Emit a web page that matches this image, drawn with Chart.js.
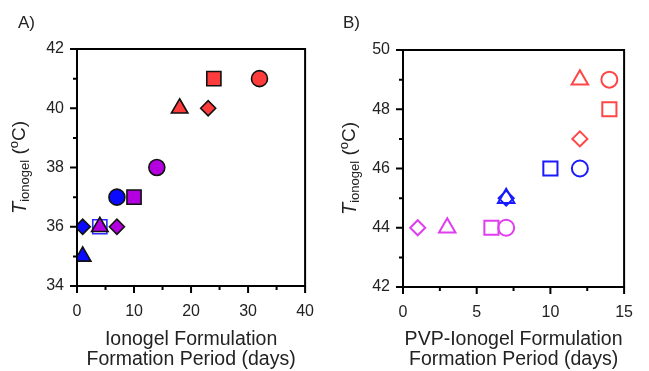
<!DOCTYPE html>
<html>
<head>
<meta charset="utf-8">
<script src="https://cdn.jsdelivr.net/npm/chart.js@4"></script>
<style>
  body { margin: 0; background: #fff; }
  #wrap { position: relative; width: 649px; height: 371px; }
  canvas { position: absolute; top: 0; }
</style>
</head>
<body>
<div id="wrap">
  <canvas id="chartA" width="330" height="371" style="left:0"></canvas>
  <canvas id="chartB" width="319" height="371" style="left:330px"></canvas>
</div>
<script>
// Panel A - ionogel formulations
const aDays   = [24, 32, 18, 23, 14, 7, 10, 1, 4, 4, 7, 1];
const aTemp   = [41, 41, 40, 40, 38, 37, 37, 36, 36, 36, 36, 35];
const aGroup  = ['red', 'red', 'red', 'red', 'purple', 'blue', 'purple', 'blue', 'blue', 'purple', 'purple', 'blue'];
const aMarker = ['square', 'circle', 'triangle', 'diamond', 'circle', 'circle', 'square', 'diamond', 'squareOpen', 'triangle', 'diamond', 'triangle'];
const aXTicks = [0, 10, 20, 30, 40];
const aYTicks = [34, 36, 38, 40, 42];

// Panel B - PVP-ionogel formulations
const bDays   = [12, 14, 14, 12, 10, 12, 7, 7, 1, 3, 6, 7];
const bTemp   = [49, 49, 48, 47, 46, 46, 45, 45, 44, 44, 44, 44];
const bGroup  = ['red', 'red', 'red', 'red', 'blue', 'blue', 'blue', 'blue', 'purple', 'purple', 'purple', 'purple'];
const bMarker = ['triangle', 'circle', 'square', 'diamond', 'square', 'circle', 'triangle', 'diamond', 'diamond', 'triangle', 'square', 'circle'];
const bXTicks = [0, 5, 10, 15];
const bYTicks = [42, 44, 46, 48, 50];

const FONT = '"Liberation Sans", Arial, sans-serif';
const filledColors = { red: '#ff3c3c', blue: '#0a0aff', purple: '#b400e0' };
const openColors = { red: '#ff4646', blue: '#1a1aff', purple: '#e03cf0' };
const styleOf = { square: 'rect', squareOpen: 'rect', circle: 'circle', triangle: 'triangle', diamond: 'rectRot' };
const radiusOf = { square: 10, squareOpen: 10, circle: 8, triangle: 9.5, diamond: 7.5 };

// cadre + graduations + titre Y + lettre du panneau
const framePlugin = {
    id: 'framePlugin',
    afterDraw(chart, args, opts) {
        const ctx = chart.ctx;
        const { left, right, top, bottom } = chart.chartArea;
        const xs = chart.scales.x, ys = chart.scales.y;
        ctx.save();
        ctx.strokeStyle = '#000';
        ctx.lineWidth = 2;
        ctx.strokeRect(left, top, right - left, bottom - top);

        const xt = opts.xTicks, yt = opts.yTicks;
        ctx.beginPath();
        xt.forEach((v, i) => {
            let px = xs.getPixelForValue(v);
            ctx.moveTo(px, bottom); ctx.lineTo(px, bottom + 7);
            if (i < xt.length - 1) {
                px = xs.getPixelForValue((v + xt[i + 1]) / 2);
                ctx.moveTo(px, bottom); ctx.lineTo(px, bottom + 4);
            }
        });
        yt.forEach((v, i) => {
            let py = ys.getPixelForValue(v);
            ctx.moveTo(left, py); ctx.lineTo(left - 7, py);
            if (i < yt.length - 1) {
                py = ys.getPixelForValue((v + yt[i + 1]) / 2);
                ctx.moveTo(left, py); ctx.lineTo(left - 4, py);
            }
        });
        ctx.stroke();

        // panel letter
        ctx.fillStyle = '#222';
        ctx.font = '17px ' + FONT;
        ctx.textBaseline = 'middle';
        ctx.textAlign = 'left';
        ctx.fillText(opts.letter, opts.letterX, 23);

        // Y title: T_ionogel (°C)
        ctx.translate(20, (top + bottom) / 2);
        ctx.rotate(-Math.PI / 2);
        const parts = [
            { t: 'T', f: 'italic 20px ' + FONT, dy: 0 },
            { t: 'ionogel', f: '13px ' + FONT, dy: 5 },
            { t: ' (', f: '19px ' + FONT, dy: 0 },
            { t: 'o', f: '13px ' + FONT, dy: -6 },
            { t: 'C)', f: '19px ' + FONT, dy: 0 }
        ];
        let total = 0;
        parts.forEach(p => { ctx.font = p.f; total += ctx.measureText(p.t).width; });
        let x = -total / 2;
        ctx.textBaseline = 'middle';
        parts.forEach(p => {
            ctx.font = p.f;
            ctx.fillText(p.t, x, p.dy);
            x += ctx.measureText(p.t).width;
        });
        ctx.restore();
    }
};

function make_chart(id, days, temp, group, marker, xTicks, yTicks, filled, cfg) {
    const pts = days.map((d, i) => ({ x: d, y: temp[i] }));
    const ctx = document.getElementById(id).getContext('2d');
    return new Chart(ctx, {
        type: 'scatter',
        data: {
            datasets: [{
                data: pts,
                pointStyle: c => styleOf[marker[c.dataIndex]],
                pointRadius: c => radiusOf[marker[c.dataIndex]],
                pointHoverRadius: c => radiusOf[marker[c.dataIndex]],
                backgroundColor: c => {
                    if (!filled || marker[c.dataIndex] === 'squareOpen') return 'rgba(0,0,0,0)';
                    return filledColors[group[c.dataIndex]];
                },
                borderColor: c => {
                    if (!filled) return openColors[group[c.dataIndex]];
                    if (marker[c.dataIndex] === 'squareOpen') return '#2a2aff';
                    return '#111';
                },
                borderWidth: filled ? 1.6 : 2
            }]
        },
        options: {
            responsive: false,
            animation: false,
            devicePixelRatio: 1,
            layout: { padding: { top: cfg.top, right: cfg.right, left: 0, bottom: 0 } },
            plugins: {
                legend: { display: false },
                tooltip: { enabled: false },
                framePlugin: { xTicks: xTicks, yTicks: yTicks, letter: cfg.letter, letterX: cfg.letterX }
            },
            scales: {
                x: {
                    type: 'linear',
                    min: xTicks[0], max: xTicks[xTicks.length - 1],
                    afterFit: s => { s.height = cfg.xHeight; },
                    grid: { display: false, drawTicks: false },
                    border: { display: false },
                    ticks: { stepSize: xTicks[1] - xTicks[0], padding: 16, color: '#222', font: { family: FONT, size: 16 } },
                    title: {
                        display: true,
                        text: cfg.xTitle,
                        color: '#222',
                        font: { family: FONT, size: 19.5, lineHeight: 1.0 },
                        padding: { top: 0, bottom: 2 }
                    }
                },
                y: {
                    type: 'linear',
                    min: yTicks[0], max: yTicks[yTicks.length - 1],
                    afterFit: s => { s.width = cfg.yWidth; },
                    grid: { display: false, drawTicks: false },
                    border: { display: false },
                    ticks: { stepSize: yTicks[1] - yTicks[0], padding: 13, color: '#222', font: { family: FONT, size: 16 } }
                }
            }
        },
        plugins: [framePlugin]
    });
}

make_chart('chartA', aDays, aTemp, aGroup, aMarker, aXTicks, aYTicks, true, {
    top: 49, right: 16, xHeight: 85, yWidth: 77, letter: 'A)', letterX: 18,
    xTitle: ['Ionogel Formulation', 'Formation Period (days)']
});
make_chart('chartB', bDays, bTemp, bGroup, bMarker, bXTicks, bYTicks, false, {
    top: 50, right: 11, xHeight: 84, yWidth: 73, letter: 'B)', letterX: 13,
    xTitle: ['PVP-Ionogel Formulation', 'Formation Period (days)']
});
</script>
</body>
</html>
